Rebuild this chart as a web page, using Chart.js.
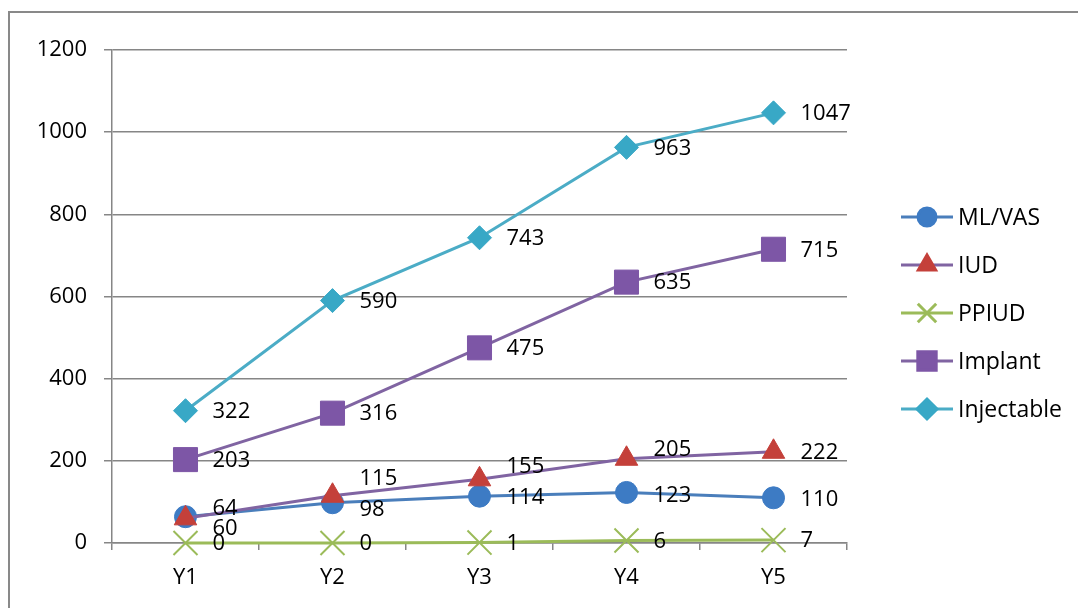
<!DOCTYPE html>
<html>
<head>
<meta charset="utf-8">
<script src="https://cdn.jsdelivr.net/npm/chart.js@4/dist/chart.umd.min.js"></script>
<style>
  html, body { margin: 0; padding: 0; background: #fff; }
  #wrap { width: 1078px; height: 608px; }
</style>
</head>
<body>
<div id="wrap"><canvas id="methodChart" width="1078" height="608"></canvas></div>
<script>
// yearly counts per method
const years = ['Y1', 'Y2', 'Y3', 'Y4', 'Y5'];
const mlVas = [64, 98, 114, 123, 110];
const iud = [60, 115, 155, 205, 222];
const ppiud = [0, 0, 1, 6, 7];
const implant = [203, 316, 475, 635, 715];
const injectable = [322, 590, 743, 963, 1047];
const yTicks = [0, 200, 400, 600, 800, 1000, 1200];

const FONT = "'Open Sans', Lato, sans-serif";

// vertical nudges for value labels that would otherwise collide
const labelNudge = {
    'ML/VAS': [-9, 6, 1, 2, 1],
    'IUD': [9, -18, -14, -10, 0]
};

const series = [
    { label: 'ML/VAS', data: mlVas, line: '#4a7ebb', fill: '#3d7bc4', style: 'circle', r: 11, lr: 9, order: 2 },
    { label: 'IUD', data: iud, line: '#8064a2', fill: '#c4403a', style: 'triangle', r: 13, lr: 10, order: 1 },
    { label: 'PPIUD', data: ppiud, line: '#9bbb59', fill: '#9bbb59', style: 'crossRot', r: 17, lr: 13, order: 0 },
    { label: 'Implant', data: implant, line: '#8064a2', fill: '#7d56a6', style: 'rect', r: 17, lr: 13, order: 3 },
    { label: 'Injectable', data: injectable, line: '#4bacc6', fill: '#38a8c6', style: 'rectRot', r: 12, lr: 10, order: 4 }
];

const datasets = series.map(s => ({
    label: s.label,
    data: s.data,
    borderColor: s.line,
    borderWidth: 3,
    pointStyle: s.style,
    pointRadius: s.r,
    pointHoverRadius: s.r,
    pointBackgroundColor: s.fill,
    pointBorderColor: s.fill,
    pointBorderWidth: s.style === 'crossRot' ? 2 : 1,
    tension: 0,
    clip: false,
    order: s.order
}));

// grey frame on the left and top
const framePlugin = {
    id: 'frame',
    beforeDraw(chart) {
        const ctx = chart.ctx;
        ctx.save();
        ctx.fillStyle = '#fff';
        ctx.fillRect(0, 0, chart.width, chart.height);
        ctx.strokeStyle = '#898989';
        ctx.lineWidth = 2;
        ctx.beginPath();
        ctx.moveTo(9, chart.height);
        ctx.lineTo(9, 12);
        ctx.lineTo(chart.width, 12);
        ctx.stroke();
        ctx.restore();
    }
};

// numbers to the right of each point
const valueLabels = {
    id: 'valueLabels',
    afterDatasetsDraw(chart) {
        const ctx = chart.ctx;
        ctx.save();
        ctx.font = '22px ' + FONT;
        ctx.fillStyle = '#000';
        ctx.textAlign = 'left';
        ctx.textBaseline = 'middle';
        chart.data.datasets.forEach((ds, i) => {
            const meta = chart.getDatasetMeta(i);
            const nudge = labelNudge[ds.label] || [];
            meta.data.forEach((pt, j) => {
                ctx.fillText(String(ds.data[j]), pt.x + 27, pt.y + 1 + (nudge[j] || 0));
            });
        });
        ctx.restore();
    }
};

// line + marker legend on the right
const sideLegend = {
    id: 'sideLegend',
    afterDraw(chart) {
        const ctx = chart.ctx;
        ctx.save();
        ctx.font = '23px ' + FONT;
        ctx.textAlign = 'left';
        ctx.textBaseline = 'middle';
        series.forEach((s, i) => {
            const y = 217 + i * 48;
            ctx.strokeStyle = s.line;
            ctx.lineWidth = 3;
            ctx.beginPath();
            ctx.moveTo(901, y);
            ctx.lineTo(953, y);
            ctx.stroke();
            ctx.fillStyle = s.fill;
            ctx.strokeStyle = s.fill;
            Chart.helpers.drawPoint(ctx, {
                pointStyle: s.style,
                radius: s.lr,
                rotation: 0,
                borderWidth: s.style === 'crossRot' ? 2 : 1
            }, 927, y);
            ctx.fillStyle = '#000';
            ctx.fillText(s.label, 958, y + 1);
        });
        ctx.restore();
    }
};

new Chart(document.getElementById('methodChart'), {
    type: 'line',
    data: { labels: years, datasets: datasets },
    options: {
        responsive: false,
        animation: false,
        layout: { padding: { top: 50, right: 231, left: 0, bottom: 0 } },
        plugins: {
            legend: { display: false },
            title: { display: false },
            tooltip: { enabled: false }
        },
        scales: {
            x: {
                offset: true,
                afterFit(scale) { scale.height = 65; },
                grid: {
                    offset: true,
                    drawOnChartArea: false,
                    drawTicks: true,
                    tickLength: 7,
                    color: '#868686',
                    lineWidth: 1.5
                },
                border: { color: '#868686', width: 1.5 },
                ticks: { color: '#000', font: { family: FONT, size: 22 }, padding: 15 }
            },
            y: {
                min: 0,
                max: 1200,
                afterFit(scale) { scale.width = 112; },
                afterBuildTicks(scale) { scale.ticks = yTicks.map(v => ({ value: v })); },
                grid: {
                    color: '#868686',
                    lineWidth: 1.5,
                    tickLength: 8
                },
                border: { color: '#868686', width: 1.5 },
                ticks: {
                    color: '#000',
                    font: { family: FONT, size: 22 },
                    padding: 17,
                    callback: v => String(v)
                }
            }
        }
    },
    plugins: [framePlugin, valueLabels, sideLegend]
});
</script>
</body>
</html>
